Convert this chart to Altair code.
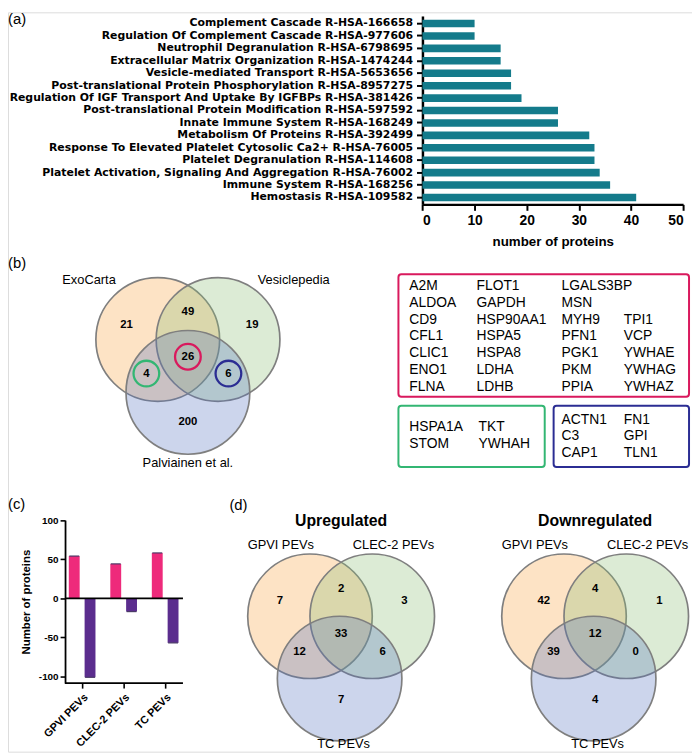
import altair as alt
import pandas as pd

# ---------------- data ----------------
pathways = [
    "Complement Cascade R-HSA-166658",
    "Regulation Of Complement Cascade R-HSA-977606",
    "Neutrophil Degranulation R-HSA-6798695",
    "Extracellular Matrix Organization R-HSA-1474244",
    "Vesicle-mediated Transport R-HSA-5653656",
    "Post-translational Protein Phosphorylation R-HSA-8957275",
    "Regulation Of IGF Transport And Uptake By IGFBPs R-HSA-381426",
    "Post-translational Protein Modification R-HSA-597592",
    "Innate Immune System R-HSA-168249",
    "Metabolism Of Proteins R-HSA-392499",
    "Response To Elevated Platelet Cytosolic Ca2+ R-HSA-76005",
    "Platelet Degranulation R-HSA-114608",
    "Platelet Activation, Signaling And Aggregation R-HSA-76002",
    "Immune System R-HSA-168256",
    "Hemostasis R-HSA-109582",
]
pathway_counts = [10, 10, 15, 15, 17, 17, 19, 26, 26, 32, 33, 33, 34, 36, 41]
x_ticks_a = [0, 10, 20, 30, 40, 50]

venn_b_sets = ["ExoCarta", "Vesiclepedia", "Palviainen et al."]
# region order: A only, A&B, B only, A&C, A&B&C, B&C, C only
venn_b_counts = [21, 49, 19, 4, 26, 6, 200]

pev_sets = ["GPVI PEVs", "CLEC-2 PEVs", "TC PEVs"]
up_counts = [7, 2, 3, 12, 33, 6, 7]
down_counts = [42, 4, 1, 39, 12, 0, 4]

pink_genes = [
    ["A2M", "ALDOA", "CD9", "CFL1", "CLIC1", "ENO1", "FLNA"],
    ["FLOT1", "GAPDH", "HSP90AA1", "HSPA5", "HSPA8", "LDHA", "LDHB"],
    ["LGALS3BP", "MSN", "MYH9", "PFN1", "PGK1", "PKM", "PPIA"],
    ["", "", "TPI1", "VCP", "YWHAE", "YWHAG", "YWHAZ"],
]
green_genes = [["HSPA1A", "STOM"], ["TKT", "YWHAH"]]
blue_genes = [["ACTN1", "C3", "CAP1"], ["FN1", "GPI", "TLN1"]]

pev_groups = ["GPVI PEVs", "CLEC-2 PEVs", "TC PEVs"]
up_regulated = [54, 44, 58]
down_regulated = [-101, -17, -57]
y_ticks_c = [-100, -50, 0, 50, 100]

# ---------------- style / layout ----------------
W, H = 692, 748
FONT = "Liberation Sans"
LABEL_FONT_A = "DejaVu Sans"
TEAL = "#147b8b"
PINK = "#ee2a7b"
PURPLE = "#5b2d8e"
SET_FILLS = ["#f8a23e", "#8abc73", "#5573c0"]
SET_OPACITY = 0.3
CIRCLE_STROKE = "#7f7f7f"
BOX_PINK = "#d9195d"
BOX_GREEN = "#33b673"
BOX_BLUE = "#2b2d93"

PX = alt.Scale(domain=[0, W], range=[0, W], nice=False, zero=False)
PY = alt.Scale(domain=[0, H], range=[0, H], nice=False, zero=False)


def px(f):
    return alt.X(f + ":Q", scale=PX, axis=None)


def py(f):
    return alt.Y(f + ":Q", scale=PY, axis=None)


# ---------------- panel (a) ----------------
dfA = pd.DataFrame({"pathway": pathways, "n": pathway_counts})
chartA = alt.Chart(dfA).mark_bar(color=TEAL).encode(
    y=alt.Y(
        "pathway:N", sort=pathways, title=None,
        scale=alt.Scale(range=[3.7, 194.3], paddingInner=0.39, paddingOuter=0.275, align=0.55),
        axis=alt.Axis(orient="left", offset=-419.3, labelFont=LABEL_FONT_A, labelFontSize=11,
                      labelFontWeight="bold", labelColor="black", labelLimit=600,
                      labelPadding=4, tickSize=6, tickWidth=2, tickColor="black",
                      domainColor="black", domainWidth=2.5),
    ),
    x=alt.X(
        "n:Q", title="number of proteins",
        scale=alt.Scale(domain=[0, 50], range=[419.3, 683], nice=False, zero=True),
        axis=alt.Axis(orient="bottom", offset=-553.7, values=x_ticks_a, grid=False,
                      labelFont=FONT, labelFontSize=14, labelFontWeight="bold",
                      labelColor="black", labelPadding=3, tickSize=6, tickWidth=2,
                      tickColor="black", domainColor="black", domainWidth=2.5,
                      titleFont=FONT, titleFontSize=13.5, titleFontWeight="bold",
                      titleColor="black", titlePadding=8),
    ),
)

# ---------------- panel (c) ----------------
dfC = pd.DataFrame({
    "group": pev_groups * 2,
    "dir": ["Up"] * 3 + ["Down"] * 3,
    "v": up_regulated + down_regulated,
})
xC = alt.X(
    "group:N", sort=pev_groups, title=None,
    scale=alt.Scale(range=[54, 180], paddingInner=0, paddingOuter=0),
    axis=alt.Axis(orient="bottom", offset=-69.3, domain=False, labelAngle=-45,
                  labelAlign="right", labelBaseline="top",
                  labelFont=FONT, labelFontSize=11, labelFontWeight="bold",
                  labelColor="black", labelPadding=3, tickSize=5, tickWidth=1.6,
                  tickColor="black"),
)
xoC = alt.XOffset("dir:N", sort=["Up", "Down"],
                  scale=alt.Scale(paddingInner=0.3125, paddingOuter=0.469))
yC = alt.Y(
    "v:Q", title="Number of proteins",
    scale=alt.Scale(domain=[-108.5, 100], range=[678.7, 513.7], nice=False, zero=False),
    axis=alt.Axis(orient="left", offset=-57.7, values=y_ticks_c, grid=False,
                  labelExpr="datum.value < 0 ? '-' + abs(datum.value) : '' + datum.value",
                  labelFont=FONT, labelFontSize=10, labelFontWeight="bold",
                  labelColor="black", labelPadding=2, tickSize=5, tickWidth=1.6,
                  tickColor="black", domainColor="black", domainWidth=1.8,
                  titleFont=FONT, titleFontSize=11.5, titleFontWeight="bold",
                  titleColor="black", titlePadding=7),
)
barsC = alt.Chart(dfC).mark_bar().encode(
    x=xC, xOffset=xoC, y=yC,
    color=alt.Color("dir:N", scale=alt.Scale(domain=["Up", "Down"], range=[PINK, PURPLE]),
                    legend=None),
)
capsC = alt.Chart(dfC).mark_tick(thickness=1.2, size=10, color="#4a3a66", opacity=1).encode(
    x=xC, xOffset=xoC, y=yC)
dfLines = pd.DataFrame({"v": [0, -108.5]})
linesC = alt.Chart(dfLines).mark_rule(color="black", strokeWidth=1.8).encode(
    y=yC, x=alt.value(57.7), x2=alt.value(177))
chartC = alt.layer(barsC, capsC, linesC)

# ---------------- venn diagrams (b), (d) ----------------
VENNS = [
    dict(M=(182, 331), circ=[(-30.5, 0), (30.5, 0), (0, 53.5)], r=62.6,
         sets=venn_b_sets, counts=venn_b_counts,
         reg=[(-62, -15), (0, -28), (65, -15), (-42, 35), (0, 18), (41, 35), (0, 84)],
         lab=[(-100, -60), (107, -60), (0, 125)]),
    dict(M=(337, 611), circ=[(-31.5, 0), (31.5, 0), (-1.5, 63)], r=63,
         sets=pev_sets, counts=up_counts,
         reg=[(-62, -15), (0, -28), (64, -15), (-42, 36), (0, 18), (42, 36), (0, 85)],
         lab=[(-61, -72), (53, -72), (2.5, 129)]),
    dict(M=(594, 611), circ=[(-31.5, 0), (31.5, 0), (-1.5, 63)], r=63,
         sets=pev_sets, counts=down_counts,
         reg=[(-52, -15), (0, -28), (65, -15), (-42, 36), (0, 18), (41, 36), (0, 85)],
         lab=[(-61, -72), (53, -72), (2.5, 129)]),
]
circle_rows, count_rows, label_rows = [], [], []
for v in VENNS:
    mx, my = v["M"]
    for i, (dx, dy) in enumerate(v["circ"]):
        circle_rows.append(dict(cx=mx + dx, cy=my + dy, s=(2 * v["r"]) ** 2, fill=SET_FILLS[i]))
    for c, (dx, dy) in zip(v["counts"], v["reg"]):
        count_rows.append(dict(x=mx + dx, y=my + dy, t=str(c)))
    for s, (dx, dy) in zip(v["sets"], v["lab"]):
        label_rows.append(dict(x=mx + dx, y=my + dy, t=s))

# highlight rings in (b): A&B&C pink, A&C green, B&C blue
ring_rows = []
mbx, mby = VENNS[0]["M"]
for idx, col in [(4, BOX_PINK), (3, BOX_GREEN), (5, BOX_BLUE)]:
    dx, dy = VENNS[0]["reg"][idx]
    ring_rows.append(dict(cx=mbx + dx, cy=mby + dy - 0.5, s=(2 * 13) ** 2, col=col))

circles = alt.Chart(pd.DataFrame(circle_rows)).mark_point(
    shape="circle", filled=True, opacity=1, fillOpacity=SET_OPACITY, strokeOpacity=1,
    strokeWidth=1.7).encode(
    x=px("cx"), y=py("cy"), size=alt.Size("s:Q", scale=None),
    fill=alt.Fill("fill:N", scale=None), stroke=alt.value(CIRCLE_STROKE))
rings = alt.Chart(pd.DataFrame(ring_rows)).mark_point(
    shape="circle", filled=False, opacity=1, strokeWidth=2.3).encode(
    x=px("cx"), y=py("cy"), size=alt.Size("s:Q", scale=None),
    stroke=alt.Stroke("col:N", scale=None))
counts_t = alt.Chart(pd.DataFrame(count_rows)).mark_text(
    font=FONT, fontSize=11.5, fontWeight="bold", color="black",
    align="center", baseline="middle").encode(x=px("x"), y=py("y"), text="t:N")
labels_t = alt.Chart(pd.DataFrame(label_rows)).mark_text(
    font=FONT, fontSize=13, color="black", align="center", baseline="middle").encode(
    x=px("x"), y=py("y"), text="t:N")

# ---------------- gene boxes ----------------
box_rows = [
    dict(x=395, x2=689, y=265, y2=389, col=BOX_PINK),
    dict(x=395, x2=543, y=398, y2=460, col=BOX_GREEN),
    dict(x=552, x2=689, y=398, y2=460, col=BOX_BLUE),
]
gene_rows = []


def add_genes(cols, xs, ys):
    for ci, col in enumerate(cols):
        for ri, g in enumerate(col):
            if g:
                gene_rows.append(dict(x=xs[ci], y=ys[ri], t=g))


add_genes(pink_genes, [406, 474, 560, 623], [277 + 17 * i for i in range(7)])
add_genes(green_genes, [406, 476], [420, 437])
add_genes(blue_genes, [560, 623], [412.5, 429, 445.5])

boxes = alt.Chart(pd.DataFrame(box_rows)).mark_rect(
    filled=False, strokeWidth=2, cornerRadius=3).encode(
    x=px("x"), x2="x2:Q", y=py("y"), y2="y2:Q", stroke=alt.Stroke("col:N", scale=None))
genes_t = alt.Chart(pd.DataFrame(gene_rows)).mark_text(
    font=FONT, fontSize=14, color="black", align="left", baseline="middle").encode(
    x=px("x"), y=py("y"), text="t:N")

# ---------------- panel letters and titles ----------------
letter_rows = [
    dict(x=0, y=7, t="(a)"), dict(x=0, y=254, t="(b)"),
    dict(x=0, y=497, t="(c)"), dict(x=224, y=498, t="(d)"),
]
letters = alt.Chart(pd.DataFrame(letter_rows)).mark_text(
    font=FONT, fontSize=15, color="black", align="left", baseline="middle").encode(
    x=px("x"), y=py("y"), text="t:N")
title_rows = [dict(x=337, y=515, t="Upregulated"), dict(x=594, y=515, t="Downregulated")]
titles = alt.Chart(pd.DataFrame(title_rows)).mark_text(
    font=FONT, fontSize=16, fontWeight="bold", color="black", align="center",
    baseline="middle").encode(x=px("x"), y=py("y"), text="t:N")

canvas = alt.layer(circles, rings, counts_t, labels_t, boxes, genes_t, letters, titles)

chart = (
    alt.layer(chartA, chartC, canvas)
    .resolve_scale(x="independent", y="independent", color="independent")
    .resolve_axis(x="independent", y="independent")
    .properties(width=W, height=H, padding=0, autosize=alt.AutoSizeParams(type="none"))
    .configure_view(strokeWidth=0)
    .configure(font=FONT)
)

chart.save("out.html", embed_options={"renderer": "svg", "actions": False})
